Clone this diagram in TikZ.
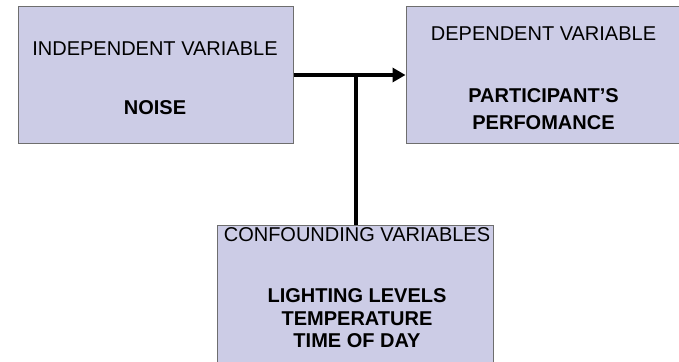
\documentclass[tikz,border=0pt]{standalone}
\usepackage{fontspec}
\setmainfont{Liberation Sans}
\usetikzlibrary{arrows.meta}
\definecolor{boxfill}{RGB}{204,204,230}
\definecolor{boxline}{RGB}{110,110,110}
\tikzset{
  varbox/.style={draw=boxline, line width=1pt, fill=boxfill, rectangle, inner sep=0pt},
  txt/.style={anchor=base, inner sep=0pt, font=\fontsize{20}{24}\selectfont},
  btxt/.style={txt, font=\fontsize{20}{24}\selectfont\bfseries},
  link/.style={line width=4pt, draw=black}
}
\begin{document}
\begin{tikzpicture}[x=1pt,y=1pt]
\useasboundingbox (0,0) rectangle (679,-361);
\clip (0,0) rectangle (679,-361);
\node[varbox, minimum width=275pt, minimum height=136pt] (iv) at (155.5,-75) {};
\node[varbox, minimum width=276pt, minimum height=136pt] (dv) at (544,-75) {};
\node[varbox, minimum width=276pt, minimum height=144pt] (cv) at (355,-297) {};
\node[txt] (ivh) at (155,-55.5) {INDEPENDENT VARIABLE};
\node[btxt] (ivt) at (155,-114.5) {NOISE};
\node[txt] (dvh) at (543.5,-40.5) {DEPENDENT VARIABLE};
\node[btxt] (dvt1) at (543.5,-102.5) {PARTICIPANT’S};
\node[btxt] (dvt2) at (543.5,-129.5) {PERFOMANCE};
\node[txt] (cvh) at (357,-241.5) {CONFOUNDING VARIABLES};
\node[btxt] (cvt1) at (357,-302.5) {LIGHTING LEVELS};
\node[btxt] (cvt2) at (357,-325) {TEMPERATURE};
\node[btxt] (cvt3) at (357,-347.5) {TIME OF DAY};
\coordinate (j) at (356,-75);
\draw[link, -{Triangle[length=13pt,width=14pt]}] (iv.east) -- (dv.west);
\draw[link] (j) -- (j |- cv.north);
\end{tikzpicture}
\end{document}
